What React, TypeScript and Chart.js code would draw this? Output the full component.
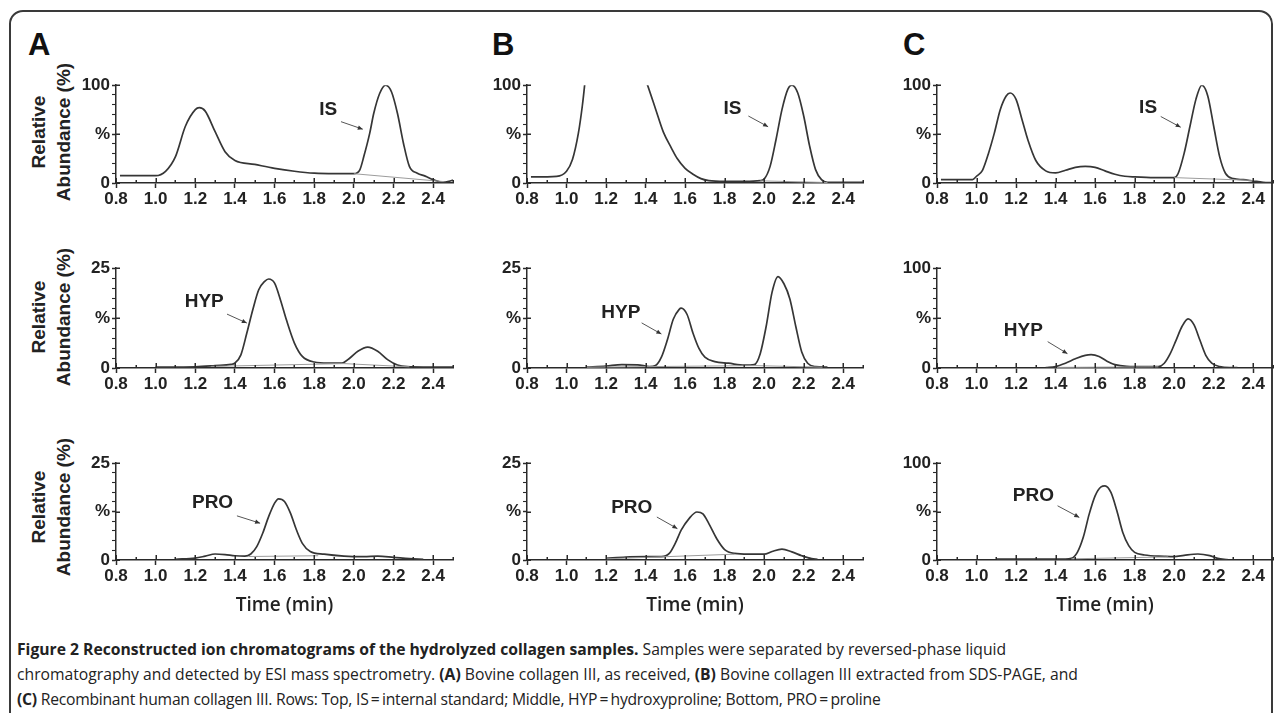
import React, { useEffect, useRef } from "react";
import { Chart, registerables } from "chart.js";
Chart.register(...registerables);

// ---------- axis / tick labels ----------
const X_TICKS = [0.8, 1.0, 1.2, 1.4, 1.6, 1.8, 2.0, 2.2, 2.4];
const X_MIN = 0.8;
const X_MAX = 2.5;
const Y_LABELS_100 = ["0", "%", "100"];
const Y_LABELS_25 = ["0", "%", "25"];
const COLUMN_LETTERS = ["A", "B", "C"];
const X_TITLE = "Time (min)";

// ---------- column A (bovine collagen III, as received) ----------
const A_IS_TIME = [0.82, 1.0, 1.05, 1.1, 1.15, 1.2, 1.22, 1.25, 1.3, 1.35, 1.4, 1.5, 1.6, 1.7, 1.8, 1.9, 2.0, 2.03, 2.05, 2.08, 2.1, 2.13, 2.16, 2.19, 2.22, 2.25, 2.28, 2.32, 2.36, 2.4, 2.45, 2.48, 2.5];
const A_IS_ABUND = [7.5, 7.5, 12, 27, 58, 75, 77, 73.5, 52.5, 32, 23, 19, 15, 12, 10, 9.5, 9.5, 13.5, 27, 51, 71, 91.5, 100, 93, 71, 40.7, 17, 10, 7, 3.4, 0.7, 1.7, 3];
const A_IS_BASE_TIME = [2.0, 2.45];
const A_IS_BASE_ABUND = [9.5, 1.5];

const A_HYP_TIME = [1.0, 1.2, 1.3, 1.38, 1.4, 1.43, 1.46, 1.49, 1.52, 1.55, 1.57, 1.6, 1.63, 1.66, 1.7, 1.74, 1.8, 1.87, 1.94, 1.98, 2.02, 2.07, 2.12, 2.17, 2.22, 2.27, 2.35, 2.5];
const A_HYP_ABUND = [0.2, 0.3, 0.6, 0.9, 1.25, 3.3, 8.75, 14.6, 19.6, 21.7, 22.3, 21.25, 17, 12, 6.25, 2.9, 1.5, 1.25, 1.25, 2.5, 4.2, 5.25, 4.2, 2.1, 0.75, 0.33, 0.25, 0.25];
const A_HYP_BASE_TIME = [1.28, 1.95, 2.28];
const A_HYP_BASE_ABUND = [0.4, 1.1, 0.3];

const A_PRO_TIME = [1.1, 1.2, 1.25, 1.3, 1.35, 1.4, 1.45, 1.48, 1.51, 1.54, 1.57, 1.6, 1.62, 1.65, 1.68, 1.71, 1.74, 1.78, 1.85, 1.95, 2.05, 2.12, 2.2, 2.28, 2.35];
const A_PRO_ABUND = [0.2, 0.5, 1.0, 1.55, 1.4, 1.1, 1.0, 1.55, 3.45, 6.9, 11.2, 14.7, 15.8, 15.1, 12.1, 7.8, 4.3, 2.2, 1.5, 1.0, 0.86, 1.0, 0.7, 0.35, 0.17];
const A_PRO_BASE_TIME = [1.47, 1.82];
const A_PRO_BASE_ABUND = [0.9, 1.1];

// ---------- column B (extracted from SDS-PAGE) ----------
const B_IS_TIME = [0.82, 0.95, 1.0, 1.03, 1.06, 1.08, 1.09, 1.1, 1.2, 1.3, 1.4, 1.41, 1.45, 1.49, 1.53, 1.56, 1.6, 1.64, 1.68, 1.72, 1.8, 1.9, 1.98, 2.0, 2.03, 2.06, 2.09, 2.12, 2.14, 2.17, 2.2, 2.23, 2.26, 2.29, 2.32, 2.4, 2.5];
const B_IS_ABUND = [6.2, 6.8, 12, 24, 51, 79, 97, 118, 400, 400, 106, 100, 76, 52, 36, 25, 15, 9, 4.5, 2.5, 1.7, 1.7, 2.4, 4, 17, 44.5, 75, 96, 100, 92, 68.5, 37.7, 13.7, 3.4, 0.7, 0.7, 0.7];
const B_IS_BASE_TIME = [1.98, 2.32];
const B_IS_BASE_ABUND = [2.2, 0.5];

const B_HYP_TIME = [1.1, 1.2, 1.28, 1.36, 1.42, 1.45, 1.48, 1.51, 1.54, 1.57, 1.58, 1.61, 1.64, 1.67, 1.7, 1.75, 1.82, 1.9, 1.95, 1.98, 2.01, 2.04, 2.07, 2.1, 2.13, 2.16, 2.19, 2.22, 2.26, 2.32];
const B_HYP_ABUND = [0.2, 0.5, 0.85, 0.8, 0.35, 0.6, 2.7, 7, 12.2, 14.7, 15, 13.4, 8.7, 4.9, 2.7, 1.6, 1.2, 0.7, 0.85, 3.6, 10.4, 19, 22.9, 21.1, 17.3, 10.4, 4, 1.2, 0.35, 0.2];
const B_HYP_BASE_TIME = [1.1, 1.95, 2.3];
const B_HYP_BASE_ABUND = [0.2, 0.6, 0.2];

const B_PRO_TIME = [1.2, 1.3, 1.4, 1.48, 1.52, 1.55, 1.58, 1.62, 1.66, 1.69, 1.72, 1.76, 1.8, 1.85, 1.92, 2.0, 2.04, 2.09, 2.14, 2.19, 2.24, 2.27];
const B_PRO_ABUND = [0.4, 0.77, 0.85, 0.85, 1.7, 4.3, 7.7, 10.7, 12.4, 11.9, 9.4, 5.5, 2.7, 1.7, 1.5, 1.5, 2.2, 2.8, 2.1, 1.1, 0.34, 0.2];
const B_PRO_BASE_TIME = [1.2, 1.85];
const B_PRO_BASE_ABUND = [0.3, 1.5];

// ---------- column C (recombinant human collagen III) ----------
const C_IS_TIME = [0.82, 0.98, 1.0, 1.03, 1.06, 1.09, 1.12, 1.15, 1.17, 1.2, 1.23, 1.26, 1.3, 1.35, 1.4, 1.45, 1.5, 1.55, 1.6, 1.65, 1.7, 1.75, 1.8, 1.9, 2.0, 2.02, 2.05, 2.08, 2.11, 2.14, 2.17, 2.2, 2.23, 2.26, 2.3, 2.35, 2.4, 2.45, 2.5];
const C_IS_ABUND = [3.4, 3.4, 6.9, 13, 30, 51, 75, 89, 92, 85.5, 65, 44, 23, 12.4, 10.3, 13, 16, 17, 16, 12.4, 9, 6.9, 6.2, 5.5, 5.5, 9.7, 30, 58, 85.5, 100, 89, 58, 27, 9.7, 4.5, 3.4, 2, 0.7, 0.3];
const C_IS_BASE_TIME = [2.0, 2.42];
const C_IS_BASE_ABUND = [5.5, 2.5];

const C_HYP_TIME = [1.35, 1.4, 1.45, 1.5, 1.55, 1.58, 1.62, 1.66, 1.7, 1.76, 1.85, 1.92, 1.95, 1.98, 2.01, 2.04, 2.07, 2.1, 2.13, 2.16, 2.19, 2.23, 2.28, 2.32];
const C_HYP_ABUND = [0.3, 1.4, 4.8, 9.2, 12.7, 13.4, 11.6, 6.8, 3.4, 1.7, 1.4, 1.4, 4.8, 14.4, 28, 41.8, 49.3, 43.5, 28, 12.7, 4.8, 1.4, 0.3, 0.3];
const C_HYP_BASE_TIME = [1.4, 1.92];
const C_HYP_BASE_ABUND = [0.6, 1.2];

const C_PRO_TIME = [1.1, 1.45, 1.48, 1.51, 1.54, 1.57, 1.6, 1.63, 1.65, 1.68, 1.71, 1.74, 1.77, 1.8, 1.85, 1.95, 2.0, 2.05, 2.12, 2.18, 2.22, 2.27];
const C_PRO_ABUND = [1.0, 1.0, 1.7, 7.9, 23.4, 47.4, 66.3, 75.6, 76.6, 69.8, 50.9, 28.5, 14.8, 7.9, 5.2, 3.8, 3.4, 4.8, 6.2, 4.5, 1.7, 0.3];
const C_PRO_BASE_TIME = [1.48, 1.97];
const C_PRO_BASE_ABUND = [1.2, 3.2];

// ---------- panel definitions ----------
interface Ann { text: string; tx: number; ty: number; x1: number; y1: number; x2: number; y2: number; }
interface PanelDef {
  col: number; row: number;
  time: number[]; abund: number[];
  baseTime: number[]; baseAbund: number[];
  yMax: number; yLabels: string[]; ann: Ann;
}

const PANELS: PanelDef[] = [
  { col: 0, row: 0, time: A_IS_TIME, abund: A_IS_ABUND, baseTime: A_IS_BASE_TIME, baseAbund: A_IS_BASE_ABUND, yMax: 100, yLabels: Y_LABELS_100,
    ann: { text: "IS", tx: 1.87, ty: 74.6, x1: 1.935, y1: 62.7, x2: 2.045, y2: 55 } },
  { col: 1, row: 0, time: B_IS_TIME, abund: B_IS_ABUND, baseTime: B_IS_BASE_TIME, baseAbund: B_IS_BASE_ABUND, yMax: 100, yLabels: Y_LABELS_100,
    ann: { text: "IS", tx: 1.84, ty: 76, x1: 1.92, y1: 68.5, x2: 2.02, y2: 57.5 } },
  { col: 2, row: 0, time: C_IS_TIME, abund: C_IS_ABUND, baseTime: C_IS_BASE_TIME, baseAbund: C_IS_BASE_ABUND, yMax: 100, yLabels: Y_LABELS_100,
    ann: { text: "IS", tx: 1.868, ty: 77, x1: 1.932, y1: 68, x2: 2.033, y2: 57 } },
  { col: 0, row: 1, time: A_HYP_TIME, abund: A_HYP_ABUND, baseTime: A_HYP_BASE_TIME, baseAbund: A_HYP_BASE_ABUND, yMax: 25, yLabels: Y_LABELS_25,
    ann: { text: "HYP", tx: 1.245, ty: 16.5, x1: 1.36, y1: 13.5, x2: 1.46, y2: 11.25 } },
  { col: 1, row: 1, time: B_HYP_TIME, abund: B_HYP_ABUND, baseTime: B_HYP_BASE_TIME, baseAbund: B_HYP_BASE_ABUND, yMax: 25, yLabels: Y_LABELS_25,
    ann: { text: "HYP", tx: 1.275, ty: 13.9, x1: 1.38, y1: 11.3, x2: 1.48, y2: 8.5 } },
  { col: 2, row: 1, time: C_HYP_TIME, abund: C_HYP_ABUND, baseTime: C_HYP_BASE_TIME, baseAbund: C_HYP_BASE_ABUND, yMax: 100, yLabels: Y_LABELS_100,
    ann: { text: "HYP", tx: 1.237, ty: 37.3, x1: 1.36, y1: 26.4, x2: 1.46, y2: 14.4 } },
  { col: 0, row: 2, time: A_PRO_TIME, abund: A_PRO_ABUND, baseTime: A_PRO_BASE_TIME, baseAbund: A_PRO_BASE_ABUND, yMax: 25, yLabels: Y_LABELS_25,
    ann: { text: "PRO", tx: 1.287, ty: 14.7, x1: 1.41, y1: 11.4, x2: 1.527, y2: 9.5 } },
  { col: 1, row: 2, time: B_PRO_TIME, abund: B_PRO_ABUND, baseTime: B_PRO_BASE_TIME, baseAbund: B_PRO_BASE_ABUND, yMax: 25, yLabels: Y_LABELS_25,
    ann: { text: "PRO", tx: 1.33, ty: 13.5, x1: 1.457, y1: 11.1, x2: 1.561, y2: 8.1 } },
  { col: 2, row: 2, time: C_PRO_TIME, abund: C_PRO_ABUND, baseTime: C_PRO_BASE_TIME, baseAbund: C_PRO_BASE_ABUND, yMax: 100, yLabels: Y_LABELS_100,
    ann: { text: "PRO", tx: 1.288, ty: 66.3, x1: 1.41, y1: 56, x2: 1.52, y2: 44 } },
];

// ---------- layout ----------
const COL_LEFT = [116, 527, 937];
const COL_WIDTH = [337, 336, 336];
const ROW_TOP = [85, 268, 463];
const ROW_HEIGHT = [98, 100, 97];
const Y_AXIS_W = 60;
const PAD_TOP = 12;
const PAD_RIGHT = 10;
const X_AXIS_H = [36, 36, 70];
const INK = "#2a2a2a";
const TICK_FONT = "'Liberation Sans', Arial, sans-serif";

function isMajorX(v: number) {
  return X_TICKS.some((t) => Math.abs(t - v) < 1e-6);
}

// inner half of the crossing tick marks (the outer half is drawn by Chart.js grid ticks)
function drawInnerTicks(chart: any) {
  const ctx = chart.ctx;
  const xs = chart.scales.x;
  const ys = chart.scales.y;
  const area = chart.chartArea;
  ctx.save();
  ctx.strokeStyle = INK;
  ctx.lineWidth = 1.5;
  ctx.beginPath();
  xs.ticks.forEach((t: any) => {
    const px = Math.round(xs.getPixelForValue(t.value)) + 0.25;
    const h = isMajorX(t.value) ? 5 : 3;
    ctx.moveTo(px, area.bottom);
    ctx.lineTo(px, area.bottom - h);
  });
  ys.ticks.forEach((t: any, i: number) => {
    if (i % 5 !== 0) return;
    const py = Math.round(ys.getPixelForValue(t.value)) + 0.25;
    ctx.moveTo(area.left, py);
    ctx.lineTo(area.left + 4, py);
  });
  ctx.stroke();
  ctx.restore();
}

function drawPeakLabel(chart: any, a: Ann) {
  const ctx = chart.ctx;
  const xs = chart.scales.x;
  const ys = chart.scales.y;
  ctx.save();
  ctx.fillStyle = "#222";
  ctx.font = `bold 19px ${TICK_FONT}`;
  ctx.textAlign = "center";
  ctx.textBaseline = "middle";
  ctx.fillText(a.text, xs.getPixelForValue(a.tx), ys.getPixelForValue(a.ty));
  const px1 = xs.getPixelForValue(a.x1);
  const py1 = ys.getPixelForValue(a.y1);
  const px2 = xs.getPixelForValue(a.x2);
  const py2 = ys.getPixelForValue(a.y2);
  ctx.strokeStyle = "#555";
  ctx.lineWidth = 1;
  ctx.beginPath();
  ctx.moveTo(px1, py1);
  ctx.lineTo(px2, py2);
  ctx.stroke();
  const ang = Math.atan2(py2 - py1, px2 - px1);
  const len = 5;
  const hw = 2.2;
  ctx.fillStyle = "#333";
  ctx.beginPath();
  ctx.moveTo(px2, py2);
  ctx.lineTo(px2 - len * Math.cos(ang) + hw * Math.sin(ang), py2 - len * Math.sin(ang) - hw * Math.cos(ang));
  ctx.lineTo(px2 - len * Math.cos(ang) - hw * Math.sin(ang), py2 - len * Math.sin(ang) + hw * Math.cos(ang));
  ctx.closePath();
  ctx.fill();
  ctx.restore();
}

function makeOverlayPlugin(a: Ann) {
  return {
    id: "chromOverlay",
    afterDatasetsDraw(chart: any) {
      drawInnerTicks(chart);
      drawPeakLabel(chart, a);
    },
  };
}

function ChromPanel({ p }: { p: PanelDef }) {
  const ref = useRef<HTMLCanvasElement>(null);
  const width = Y_AXIS_W + COL_WIDTH[p.col] + PAD_RIGHT;
  const xh = X_AXIS_H[p.row];
  const height = PAD_TOP + ROW_HEIGHT[p.row] + xh;
  const left = COL_LEFT[p.col] - Y_AXIS_W;
  const top = ROW_TOP[p.row] - PAD_TOP;

  useEffect(() => {
    const canvas = ref.current;
    if (!canvas) return;
    const isBottom = p.row === 2;
    const chart = new Chart(canvas, {
      type: "line",
      data: {
        datasets: [
          {
            data: p.baseTime.map((x, i) => ({ x, y: p.baseAbund[i] })),
            borderColor: "#9c9c9c",
            borderWidth: 1,
            pointRadius: 0,
            tension: 0,
          },
          {
            data: p.time.map((x, i) => ({ x, y: p.abund[i] })),
            borderColor: "#363636",
            borderWidth: 1.7,
            pointRadius: 0,
            cubicInterpolationMode: "monotone",
          },
        ],
      },
      options: {
        animation: false,
        responsive: false,
        events: [],
        layout: { padding: { left: 0, top: PAD_TOP, right: PAD_RIGHT, bottom: 0 } },
        plugins: { legend: { display: false }, tooltip: { enabled: false } },
        scales: {
          x: {
            type: "linear",
            min: X_MIN,
            max: X_MAX,
            afterBuildTicks: (s: any) => {
              const t: { value: number }[] = [];
              for (let i = 8; i <= 25; i++) t.push({ value: i / 10 });
              s.ticks = t;
            },
            afterFit: (s: any) => {
              s.height = xh;
            },
            grid: {
              display: true,
              drawOnChartArea: false,
              drawTicks: true,
              tickLength: 5,
              tickColor: (c: any) => (c.tick && isMajorX(c.tick.value) ? INK : "rgba(0,0,0,0)"),
              tickWidth: 1.5,
              color: INK,
            },
            border: { display: true, color: INK, width: 1.5 },
            ticks: {
              autoSkip: false,
              maxRotation: 0,
              padding: 1,
              color: "#222",
              font: { family: TICK_FONT, size: 17, weight: "bold" },
              callback: (v: any) => (isMajorX(Number(v)) ? Number(v).toFixed(1) : ""),
            },
            title: {
              display: isBottom,
              text: X_TITLE,
              color: "#222",
              font: { family: "'Open Sans', sans-serif", size: 19, weight: "600" },
              padding: { top: 0, bottom: 13 },
            },
          },
          y: {
            type: "linear",
            min: 0,
            max: p.yMax,
            afterBuildTicks: (s: any) => {
              const t: { value: number }[] = [];
              for (let j = 0; j <= 10; j++) t.push({ value: (p.yMax * j) / 10 });
              s.ticks = t;
            },
            afterFit: (s: any) => {
              s.width = Y_AXIS_W;
            },
            grid: {
              display: true,
              drawOnChartArea: false,
              drawTicks: true,
              tickLength: 4,
              tickColor: INK,
              tickWidth: (c: any) => (c.index % 5 === 0 ? 1.5 : 1.1),
              color: INK,
            },
            border: { display: true, color: INK, width: 1.5 },
            ticks: {
              autoSkip: false,
              padding: 2,
              color: "#222",
              font: { family: TICK_FONT, size: 17, weight: "bold" },
              callback: (_v: any, i: number) => (i % 5 === 0 ? p.yLabels[i / 5] : ""),
            },
          },
        },
      } as any,
      plugins: [makeOverlayPlugin(p.ann)],
    });
    return () => chart.destroy();
  }, []);

  return (
    <canvas
      ref={ref}
      width={width}
      height={height}
      style={{ position: "absolute", left, top, width, height }}
    />
  );
}

const LETTER_LEFT = [28, 492, 903];
const YTITLE_CENTER = [132, 317, 507];

export default function App() {
  return (
    <div style={{ position: "absolute", left: 0, top: 0, width: 1284, height: 713, background: "#fff", overflow: "hidden" }}>
      <div
        style={{
          position: "absolute",
          left: 9,
          top: 10,
          width: 1264,
          height: 760,
          border: "2px solid #3a3a3a",
          borderRadius: "14px 14px 0 0",
          boxSizing: "border-box",
        }}
      />
      {COLUMN_LETTERS.map((l, i) => (
        <div
          key={l}
          style={{
            position: "absolute",
            left: LETTER_LEFT[i],
            top: 29,
            font: `bold 31px ${TICK_FONT}`,
            lineHeight: "31px",
            color: "#111",
          }}
        >
          {l}
        </div>
      ))}
      {YTITLE_CENTER.map((cy, i) => (
        <div
          key={i}
          style={{
            position: "absolute",
            left: 51,
            top: cy,
            transform: "translate(-50%, -50%) rotate(-90deg)",
            whiteSpace: "nowrap",
            textAlign: "center",
            font: `bold 19px ${TICK_FONT}`,
            lineHeight: "25px",
            color: "#222",
          }}
        >
          Relative
          <br />
          Abundance (%)
        </div>
      ))}
      {PANELS.map((p, i) => (
        <ChromPanel key={i} p={p} />
      ))}
      <div
        style={{
          position: "absolute",
          left: 17,
          top: 637,
          whiteSpace: "nowrap",
          font: "15.7px 'Open Sans', sans-serif",
          lineHeight: "25px",
          color: "#222",
        }}
      >
        <b>Figure 2 Reconstructed ion chromatograms of the hydrolyzed collagen samples.</b> Samples were separated by reversed-phase liquid
        <br />
        chromatography and detected by ESI mass spectrometry. <b>(A)</b> Bovine collagen III, as received, <b>(B)</b> Bovine collagen III extracted from SDS-PAGE, and
        <br />
        <span style={{ letterSpacing: "-0.25px" }}>
          <b>(C)</b> Recombinant human collagen III. Rows: Top, IS{"\u2009"}={"\u2009"}internal standard; Middle, HYP{"\u2009"}={"\u2009"}hydroxyproline; Bottom, PRO{"\u2009"}={"\u2009"}proline
        </span>
      </div>
    </div>
  );
}
